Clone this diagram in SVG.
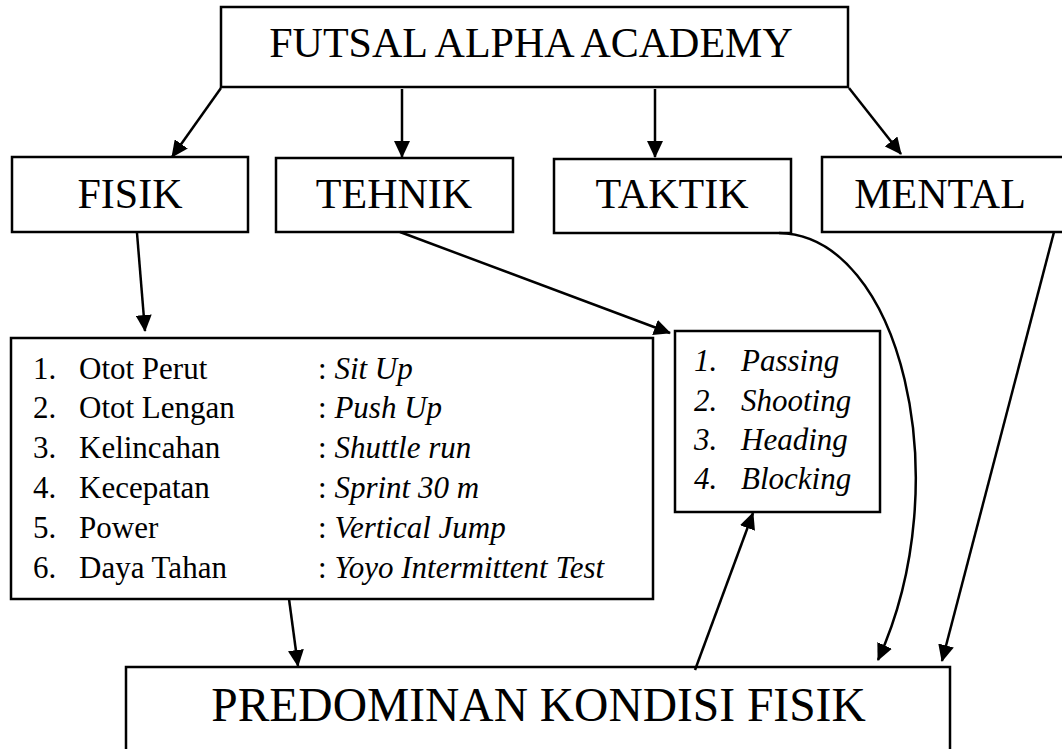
<svg xmlns="http://www.w3.org/2000/svg" width="1062" height="749" viewBox="0 0 1062 749">
<style>
.box{fill:#fff;stroke:#000;stroke-width:2.5}
.t{font-family:"Liberation Serif","Times New Roman",serif;fill:#000}
.big{font-size:42px;text-anchor:middle}
.li{font-size:31px}
.it{font-style:italic}
.c{fill:none;stroke:#000;stroke-width:2.5}
</style>
<defs>
<marker id="ah" markerUnits="userSpaceOnUse" markerWidth="17" markerHeight="16" refX="16" refY="8" orient="auto">
<path d="M0,0 L17,8 L0,16 z" fill="#000"/>
</marker>
</defs>
<rect width="1062" height="749" fill="#fff"/>
<g id="academy">
<rect class="box" x="221" y="7" width="627" height="80"/>
<text class="t big" x="531" y="57">FUTSAL ALPHA ACADEMY</text>
</g>
<g id="fisik">
<rect class="box" x="12" y="157" width="236" height="75"/>
<text class="t big" x="130" y="208">FISIK</text>
</g>
<g id="tehnik">
<rect class="box" x="276" y="158" width="237" height="74"/>
<text class="t big" x="394" y="208">TEHNIK</text>
</g>
<g id="taktik">
<rect class="box" x="554" y="159" width="237" height="74"/>
<text class="t big" x="672" y="208">TAKTIK</text>
</g>
<g id="mental">
<rect class="box" x="822" y="157" width="260" height="75"/>
<text class="t big" x="940" y="208">MENTAL</text>
</g>
<g id="fisik-list">
<rect class="box" x="11" y="338" width="642" height="261"/>
<g class="t li">
<text x="33" y="378.5">1.</text><text x="79" y="378.5">Otot Perut</text><text x="318" y="378.5">: <tspan class="it">Sit Up</tspan></text>
<text x="33" y="418.3">2.</text><text x="79" y="418.3">Otot Lengan</text><text x="318" y="418.3">: <tspan class="it">Push Up</tspan></text>
<text x="33" y="458.1">3.</text><text x="79" y="458.1">Kelincahan</text><text x="318" y="458.1">: <tspan class="it">Shuttle run</tspan></text>
<text x="33" y="497.9">4.</text><text x="79" y="497.9">Kecepatan</text><text x="318" y="497.9">: <tspan class="it">Sprint 30 m</tspan></text>
<text x="33" y="537.7">5.</text><text x="79" y="537.7">Power</text><text x="318" y="537.7">: <tspan class="it">Vertical Jump</tspan></text>
<text x="33" y="577.5">6.</text><text x="79" y="577.5">Daya Tahan</text><text x="318" y="577.5">: <tspan class="it">Yoyo Intermittent Test</tspan></text>
</g>
</g>
<g id="tehnik-list">
<rect class="box" x="675" y="331" width="205" height="181"/>
<g class="t li it">
<text x="694" y="371">1.</text><text x="741" y="371">Passing</text>
<text x="694" y="410.5">2.</text><text x="741" y="410.5">Shooting</text>
<text x="694" y="450">3.</text><text x="741" y="450">Heading</text>
<text x="694" y="489">4.</text><text x="741" y="489">Blocking</text>
</g>
</g>
<g id="predominan">
<rect class="box" x="126" y="667" width="824" height="100"/>
<text class="t" x="538.5" y="721" font-size="47.5" text-anchor="middle">PREDOMINAN KONDISI FISIK</text>
</g>
<g id="connectors">
<line class="c" x1="221" y1="88" x2="172" y2="157" marker-end="url(#ah)"/>
<line class="c" x1="402" y1="89" x2="402" y2="157" marker-end="url(#ah)"/>
<line class="c" x1="655" y1="89" x2="655" y2="157" marker-end="url(#ah)"/>
<line class="c" x1="849" y1="88" x2="901" y2="154" marker-end="url(#ah)"/>
<line class="c" x1="137" y1="233" x2="145" y2="331" marker-end="url(#ah)"/>
<line class="c" x1="400" y1="232" x2="670" y2="333" marker-end="url(#ah)"/>
<line class="c" x1="289" y1="599" x2="298" y2="666" marker-end="url(#ah)"/>
<line class="c" x1="695" y1="670" x2="753" y2="513" marker-end="url(#ah)"/>
<path class="c" d="M779,233 C900,235 960,480 878,660" marker-end="url(#ah)"/>
<line class="c" x1="1054" y1="232" x2="942" y2="661" marker-end="url(#ah)"/>
</g>
</svg>
